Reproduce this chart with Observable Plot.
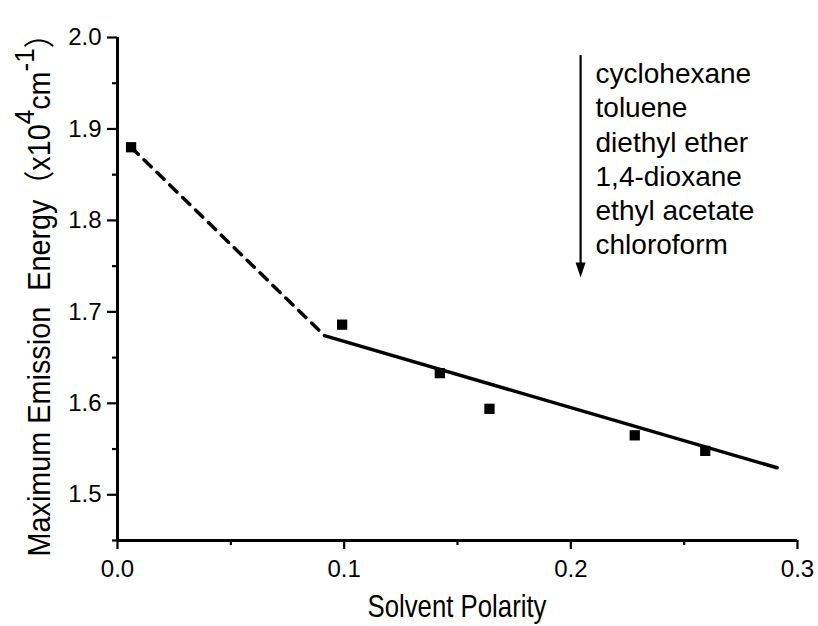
<!DOCTYPE html>
<html>
<head>
<meta charset="utf-8">
<script src="https://cdn.jsdelivr.net/npm/d3@7"></script>
<script src="https://cdn.jsdelivr.net/npm/@observablehq/plot@0.6"></script>
<style>
  html, body { margin: 0; padding: 0; background: white; }
  #chart svg { display: block; }
</style>
</head>
<body>
<div id="chart"></div>
<script>
// Measured data points (solvent polarity vs max emission energy, x10^4 cm^-1)
const polarity = [0.0060, 0.0991, 0.1422, 0.1641, 0.2282, 0.2593];
const energy   = [1.880, 1.686, 1.633, 1.594, 1.565, 1.548];

// Fitted guide lines
const dashedX = [0.0060, 0.0913];
const dashedY = [1.880, 1.674];
const solidX  = [0.0913, 0.2910];
const solidY  = [1.674, 1.5295];

// Annotation: arrow and solvent list
const arrowX = [0.2043];
const arrowTop = [1.9803];
const arrowTip = [1.7376];
const solvents = ["cyclohexane", "toluene", "diethyl ether", "1,4-dioxane", "ethyl acetate", "chloroform"];
const labelX = [0.2109];
const labelY = [1.9765];

// Ticks
const xMajor = [0, 0.1, 0.2, 0.3];
const xMinor = [0.05, 0.15, 0.25];
const yMajor = [1.5, 1.6, 1.7, 1.8, 1.9, 2.0];
const yMinor = [1.45, 1.55, 1.65, 1.75, 1.85, 1.95];

const points = polarity.map((x, i) => ({x, y: energy[i]}));
const dashed = dashedX.map((x, i) => ({x, y: dashedY[i]}));
const solid = solidX.map((x, i) => ({x, y: solidY[i]}));
const arrow = arrowX.map((x, i) => ({x, y1: arrowTop[i], y2: arrowTip[i]}));
const label = labelX.map((x, i) => ({x, y: labelY[i], text: solvents.join("\n")}));

const arrowHead = {
  draw(context) {
    context.moveTo(0, 0);
    context.lineTo(-5, -15);
    context.lineTo(5, -15);
    context.closePath();
  }
};

const FONT = "'Liberation Sans', Arial, 'Noto Sans CJK SC', sans-serif";

const chart = Plot.plot({
  width: 818,
  height: 626,
  marginLeft: 117,
  marginRight: 21,
  marginTop: 37,
  marginBottom: 86,
  x: {domain: [0, 0.3]},
  y: {domain: [1.45, 2.0]},
  style: {fontFamily: FONT, fontSize: "24px", color: "black", background: "white", overflow: "visible"},
  marks: [
    Plot.axisX(xMajor, {tickSize: 9, tickPadding: 10, tickFormat: d => d.toFixed(1), label: null, strokeWidth: 2.2, fontSize: 24}),
    Plot.axisX(xMinor, {tickSize: 5, tickFormat: () => "", label: null, strokeWidth: 2.2}),
    Plot.axisY(yMajor, {tickSize: 10, tickPadding: 6, tickFormat: d => d.toFixed(1), label: null, strokeWidth: 2.2, fontSize: 24}),
    Plot.axisY(yMinor, {tickSize: 5, tickFormat: () => "", label: null, strokeWidth: 2.2}),
    Plot.ruleY([1.45], {strokeWidth: 3}),
    Plot.ruleX([0], {strokeWidth: 3}),
    Plot.line(dashed, {x: "x", y: "y", stroke: "black", strokeWidth: 3.5, strokeDasharray: "10,8"}),
    Plot.line(solid, {x: "x", y: "y", stroke: "black", strokeWidth: 3.5}),
    Plot.dot(points, {x: "x", y: "y", symbol: "square", r: 5.8, fill: "black", stroke: null}),
    Plot.ruleX(arrow, {x: "x", y1: "y1", y2: "y2", strokeWidth: 2.2, insetBottom: 12}),
    Plot.dot(arrow, {x: "x", y: "y2", symbol: arrowHead, fill: "black", stroke: null}),
    Plot.text(label, {x: "x", y: "y", text: "text", textAnchor: "start", lineAnchor: "top", lineHeight: 1.22, fontSize: 28, fill: "black"})
  ]
});

const svg = d3.select(chart);
// make tick strokes match the heavier reference strokes
svg.selectAll("g[aria-label$='tick'] path, g[aria-label$='tick'] line").attr("stroke-width", 2.2);
svg.selectAll("g[aria-label$='tick']").attr("stroke-width", 2.2);

// X axis title
svg.append("text")
  .attr("x", 457).attr("y", 617)
  .attr("text-anchor", "middle")
  .attr("font-family", FONT)
  .attr("font-size", 32)
  .attr("textLength", 179)
  .attr("lengthAdjust", "spacingAndGlyphs")
  .attr("fill", "black")
  .text("Solvent Polarity");

// Y axis title with superscripts
const yt = svg.append("text")
  .attr("transform", "translate(50,288) rotate(-90)")
  .attr("text-anchor", "middle")
  .attr("font-family", FONT)
  .attr("font-size", 31)
  .attr("textLength", 537)
  .attr("lengthAdjust", "spacingAndGlyphs")
  .attr("fill", "black")
  .style("white-space", "pre");
yt.append("tspan").text("Maximum Emission  Energy\uFF08x10");
yt.append("tspan").attr("dy", -16).attr("font-size", 28).text("4");
yt.append("tspan").attr("dy", 16).text("cm");
yt.append("tspan").attr("dy", -16).attr("font-size", 28).text("-1");
yt.append("tspan").attr("dy", 16).text("\uFF09");

document.getElementById("chart").appendChild(chart);
</script>
</body>
</html>
